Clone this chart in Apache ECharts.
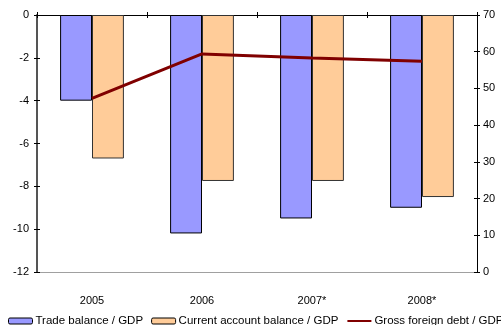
<!DOCTYPE html>
<html>
<head>
<meta charset="utf-8">
<script src="https://cdn.jsdelivr.net/npm/echarts@6/dist/echarts.min.js"></script>
<style>
  html, body { margin: 0; padding: 0; background: #fff; }
  #chart { width: 501px; height: 325px; }
</style>
</head>
<body>
<div id="chart"></div>
<script>
// data
const years = ['2005', '2006', '2007*', '2008*']
const tradeBalance = [-4.0, -10.2, -9.5, -9.0]
const currentAccount = [-6.7, -7.75, -7.75, -8.5]
const grossDebt = [47.3, 59.4, 58.3, 57.4]

const font = 'Liberation Sans, Arial, sans-serif'

const myChart = echarts.init(document.getElementById('chart'))

// half-length ticks on both sides of an axis line: one axis outside, a twin inside
function tick (inside, color) {
  return { show: true, inside: inside, length: 3, lineStyle: { color: color, width: 1 } }
}

const option = {
  animation: false,
  textStyle: { fontFamily: font },
  grid: { left: 37, right: 24, top: 15, bottom: 53, containLabel: false },
  legend: {
    left: 3,
    top: 310,
    width: 700,
    itemWidth: 24,
    itemHeight: 6,
    itemGap: 8,
    textStyle: { fontFamily: font, fontSize: 11.5, color: '#000', padding: [0, 0, 0, -2] },
    data: [
      { name: 'Trade balance / GDP', itemStyle: { borderColor: '#000', borderWidth: 1 } },
      { name: 'Current account balance / GDP', itemStyle: { borderColor: '#000', borderWidth: 1 } },
      { name: 'Gross foreign debt / GDP', itemStyle: { opacity: 0 } }
    ]
  },
  xAxis: [
    {
      // bottom: labels only
      type: 'category',
      data: years,
      position: 'bottom',
      axisLine: { show: true, onZero: false, lineStyle: { color: '#a0a0a0', width: 1 } },
      axisTick: { show: false },
      axisLabel: { color: '#000', fontSize: 11, fontFamily: font, margin: 23 }
    },
    {
      // top: the zero line with tick marks
      type: 'category',
      data: years,
      position: 'top',
      axisLine: { show: true, onZero: false, lineStyle: { color: '#000', width: 1 } },
      axisTick: tick(false, '#000'),
      axisLabel: { show: false }
    },
    {
      type: 'category',
      data: years,
      position: 'top',
      axisLine: { show: false, onZero: false },
      axisTick: tick(true, '#000'),
      axisLabel: { show: false }
    }
  ],
  yAxis: [
    {
      type: 'value',
      min: -12,
      max: 0,
      interval: 2,
      position: 'left',
      axisLine: { show: true, lineStyle: { color: '#555', width: 2 } },
      axisTick: tick(false, '#000'),
      axisLabel: { color: '#000', fontSize: 11, fontFamily: font, margin: 8 },
      splitLine: { show: false }
    },
    {
      type: 'value',
      min: 0,
      max: 70,
      interval: 10,
      position: 'right',
      axisLine: { show: true, lineStyle: { color: '#000', width: 1 } },
      axisTick: tick(false, '#000'),
      axisLabel: { color: '#000', fontSize: 11, fontFamily: font, margin: 6 },
      splitLine: { show: false }
    },
    {
      type: 'value',
      min: -12,
      max: 0,
      interval: 2,
      position: 'left',
      axisLine: { show: false },
      axisTick: tick(true, '#000'),
      axisLabel: { show: false },
      splitLine: { show: false }
    },
    {
      type: 'value',
      min: 0,
      max: 70,
      interval: 10,
      position: 'right',
      axisLine: { show: false },
      axisTick: tick(true, '#000'),
      axisLabel: { show: false },
      splitLine: { show: false }
    }
  ],
  series: [
    {
      name: 'Trade balance / GDP',
      type: 'bar',
      xAxisIndex: 0,
      yAxisIndex: 0,
      barGap: '0%',
      barCategoryGap: '42%',
      itemStyle: { color: '#9999ff', borderColor: '#000', borderWidth: 1 },
      data: tradeBalance
    },
    {
      name: 'Current account balance / GDP',
      type: 'bar',
      xAxisIndex: 0,
      yAxisIndex: 0,
      barGap: '0%',
      barCategoryGap: '42%',
      itemStyle: { color: '#ffcc99', borderColor: '#333', borderWidth: 1 },
      data: currentAccount
    },
    {
      name: 'Gross foreign debt / GDP',
      type: 'line',
      xAxisIndex: 0,
      yAxisIndex: 1,
      symbol: 'none',
      z: 5,
      lineStyle: { color: '#800000', width: 3 },
      itemStyle: { color: '#800000' },
      data: grossDebt
    }
  ]
}

myChart.setOption(option)
</script>
</body>
</html>
